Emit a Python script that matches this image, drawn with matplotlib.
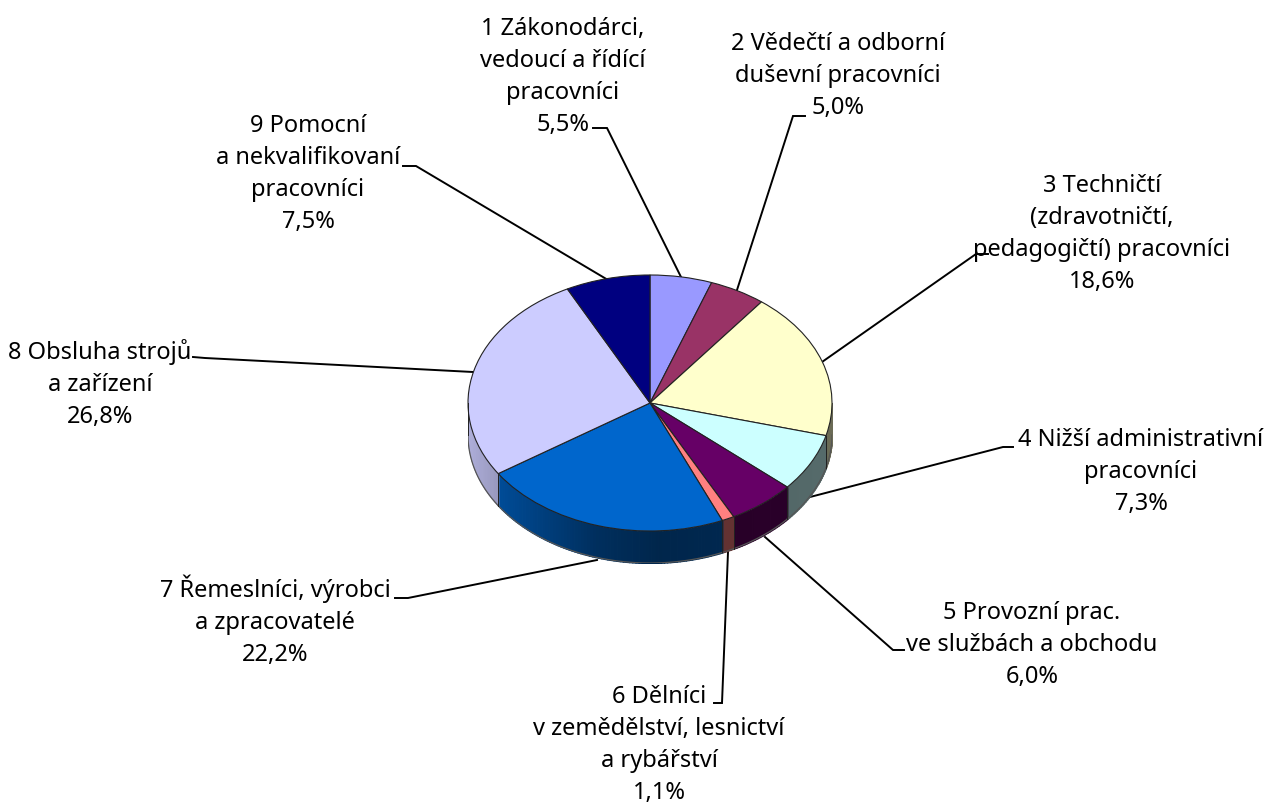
import numpy as np
import matplotlib
matplotlib.use("Agg")
import matplotlib.pyplot as plt
from matplotlib.colors import to_rgb

# Data
shares = [5.5, 5.0, 18.6, 7.3, 6.0, 1.1, 22.2, 26.8, 7.5]
share_labels = ["5,5%", "5,0%", "18,6%", "7,3%", "6,0%", "1,1%", "22,2%", "26,8%", "7,5%"]
names = [
    "1 Zákonodárci,\nvedoucí a řídící\npracovníci",
    "2 Vědečtí a odborní\nduševní pracovníci",
    "3 Techničtí\n(zdravotničtí,\npedagogičtí) pracovníci",
    "4 Nižší administrativní\npracovníci",
    "5 Provozní prac.\nve službách a obchodu",
    "6 Dělníci\nv zemědělství, lesnictví\na rybářství",
    "7 Řemeslníci, výrobci\na zpracovatelé",
    "8 Obsluha strojů\na zařízení",
    "9 Pomocní\na nekvalifikovaní\npracovníci",
]
colors = ["#9999ff", "#993366", "#ffffcc", "#ccffff", "#660066",
          "#ff8080", "#0066cc", "#ccccff", "#000080"]

W, H = 1265, 805
plt.rcParams["font.family"] = ["Noto Sans", "DejaVu Sans"]

# pie geometry in pixels
cx, cy = 650, 403
rx, ry = 182, 128
depth = 32 / ry

# label centres and first baseline y, leader paths in pixels
label_pos = [(563, 35), (838, 50), (1102, 192), (1141, 446), (1032, 619),
             (659, 703), (275, 597), (100, 359), (308, 132)]
leaders = [
    [(593, 128), (607, 128), (681, 277)],
    [(805, 116), (793, 116), (737, 290)],
    [(988, 254), (976, 254), (822, 362)],
    [(1013, 447), (1003, 447), (810, 497)],
    [(904, 650), (893, 650), (765, 537)],
    [(714, 703), (722, 703), (728, 552)],
    [(395, 598), (408, 598), (597, 560)],
    [(193, 357), (205, 358), (473, 372)],
    [(403, 166), (416, 166), (608, 280)],
]
line_gap = 32

fig = plt.figure(figsize=(W / 100, H / 100), dpi=100)

# overlay in pixel coordinates for labels and leader lines
ax_txt = fig.add_axes([0, 0, 1, 1], zorder=0)
ax_txt.set_xlim(0, W)
ax_txt.set_ylim(H, 0)
ax_txt.axis("off")

for path in leaders:
    xs, ys = zip(*path)
    ax_txt.plot(xs, ys, color="black", lw=1.4, solid_joinstyle="miter")

for name, share, (x, y) in zip(names, share_labels, label_pos):
    for i, line in enumerate((name + "\n" + share).split("\n")):
        ax_txt.text(x, y + i * line_gap, line, ha="center", va="baseline",
                    fontsize=17, color="black")

# pie axes, unit circle maps on the ellipse
ax = fig.add_axes([(cx - rx) / W, 1 - (cy + ry + depth * ry) / H,
                   2 * rx / W, (2 * ry + depth * ry) / H], zorder=1)
ax.patch.set_alpha(0)


def shade(x):
    return np.interp(x, [-1, -0.8, -0.3, 0.05, 1], [0.85, 0.72, 0.46, 0.37, 0.42])


# side wall, front half only
edges = np.cumsum([0] + shares) * 3.6
for i, col in enumerate(colors):
    a0, a1 = max(edges[i], 90), min(edges[i + 1], 270)
    if a1 <= a0:
        continue
    th = np.radians(np.linspace(a0, a1, max(int(a1 - a0) + 2, 2)))
    xs, ys = np.sin(th), np.cos(th)
    rgb = np.array(to_rgb(col))
    for j in range(len(th) - 1):
        c = tuple(rgb * shade(xs[j:j + 2].mean()))
        ax.fill_between(xs[j:j + 2], ys[j:j + 2], ys[j:j + 2] - depth,
                        color=c, lw=0.9, antialiased=False)
    ax.plot(xs, ys - depth, color="#555555", lw=0.9)
    for k in (0, -1):
        ax.plot([xs[k], xs[k]], [ys[k], ys[k] - depth], color="#222222", lw=0.7)

# top face
ax.pie(shares, colors=colors, startangle=90, counterclock=False, radius=1,
       wedgeprops={"edgecolor": "#222222", "linewidth": 0.8})
ax.set_aspect("auto")
ax.set_xlim(-1, 1)
ax.set_ylim(-1 - depth, 1)
for art in ax.patches:
    art.set_clip_on(False)

fig.savefig("out.png", dpi=100, facecolor="white")
